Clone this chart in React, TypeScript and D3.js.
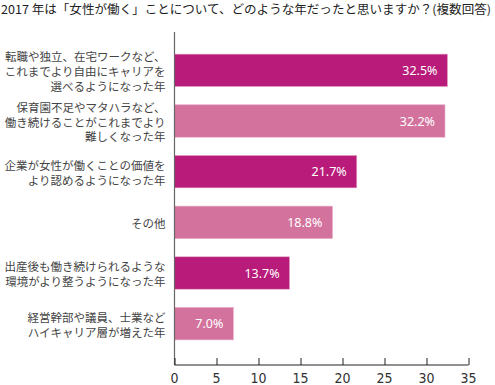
import * as React from "react"
import * as d3 from "d3"

const categories = [
  ["転職や独立、在宅ワークなど、", "これまでより自由にキャリアを", "選べるようになった年"],
  ["保育園不足やマタハラなど、", "働き続けることがこれまでより", "難しくなった年"],
  ["企業が女性が働くことの価値を", "より認めるようになった年"],
  ["その他"],
  ["出産後も働き続けられるような", "環境がより整うようになった年"],
  ["経営幹部や議員、士業など", "ハイキャリア層が増えた年"],
]
const values = [32.5, 32.2, 21.7, 18.8, 13.7, 7.0]
const xTicks = [0, 5, 10, 15, 20, 25, 30, 35]
const title = "2017 年は「女性が働く」ことについて、どのような年だったと思いますか？(複数回答)"

const width = 495
const height = 385
const dark = "#b81b79"
const light = "#d3739d"
const jp = "'Noto Sans CJK JP', 'Noto Sans', sans-serif"

export default function App() {
  const svgRef = React.useRef<SVGSVGElement>(null)

  React.useEffect(() => {
    if (!svgRef.current) return
    const svg = d3.select(svgRef.current)
    svg.selectAll("*").remove()

    const x = d3.scaleLinear().domain([0, 35]).range([174.5, 468.5])
    const y = d3
      .scaleBand<number>()
      .domain(d3.range(values.length))
      .range([45, 349])
      .paddingInner(0.36)
      .paddingOuter(0.18)

    // title
    svg
      .append("text")
      .attr("x", 1)
      .attr("y", 14)
      .attr("font-family", jp)
      .attr("font-size", 12)
      .attr("fill", "#222")
      .attr("textLength", 490)
      .attr("lengthAdjust", "spacingAndGlyphs")
      .text(title)

    // bars
    svg
      .selectAll(".bar")
      .data(values)
      .enter()
      .append("rect")
      .attr("x", x(0))
      .attr("y", (_, i) => y(i) || 0)
      .attr("width", (d) => x(d) - x(0))
      .attr("height", y.bandwidth())
      .attr("fill", (_, i) => (i % 2 === 0 ? dark : light))
      .attr("stroke", "#e6a9c6")
      .attr("stroke-width", 0.6)

    // value labels
    svg
      .selectAll(".val")
      .data(values)
      .enter()
      .append("text")
      .attr("x", (d) => x(d) - 10)
      .attr("y", (_, i) => (y(i) || 0) + y.bandwidth() / 2)
      .attr("dy", "0.36em")
      .attr("text-anchor", "end")
      .attr("font-family", "'Noto Sans', sans-serif")
      .attr("font-size", 12.5)
      .attr("fill", "#fff")
      .text((d) => d.toFixed(1) + "%")

    // category labels
    categories.forEach((lines, i) => {
      const cy = (y(i) || 0) + y.bandwidth() / 2
      const lh = 14.8
      const t = svg
        .append("text")
        .attr("text-anchor", "end")
        .attr("font-family", jp)
        .attr("font-size", 11.5)
        .attr("fill", "#444")
      lines.forEach((line, j) => {
        t.append("tspan")
          .attr("x", 165.5)
          .attr("y", cy + (j - (lines.length - 1) / 2) * lh + 1.5)
          .attr("dy", "0.36em")
          .text(line)
      })
    })

    // y axis line
    svg
      .append("line")
      .attr("x1", x(0))
      .attr("x2", x(0))
      .attr("y1", 32)
      .attr("y2", 365)
      .attr("stroke", "#666")
      .attr("stroke-width", 1.2)

    // x axis
    const ax = svg
      .append("g")
      .attr("transform", "translate(0,365)")
      .call(d3.axisTop(x).tickValues(xTicks).tickSize(7).tickFormat(() => ""))
    ax.select(".domain").attr("stroke", "#222").attr("stroke-width", 1.2).attr("d", `M${x(0)},0H${x(35)}`)
    ax.selectAll(".tick line").attr("stroke", "#222")

    svg
      .selectAll(".tl")
      .data(xTicks)
      .enter()
      .append("text")
      .attr("x", (d) => x(d))
      .attr("y", 383)
      .attr("text-anchor", "middle")
      .attr("font-family", "'DejaVu Sans Condensed', 'DejaVu Sans', sans-serif")
      .attr("font-weight", 300)
      .attr("font-size", 14)
      .attr("fill", "#333")
      .text((d) => String(d))
  }, [])

  return (
    <div style={{ position: "absolute", left: 0, top: 0 }}>
      <svg ref={svgRef} width={width} height={height} style={{ display: "block", background: "#fff" }} />
    </div>
  )
}
